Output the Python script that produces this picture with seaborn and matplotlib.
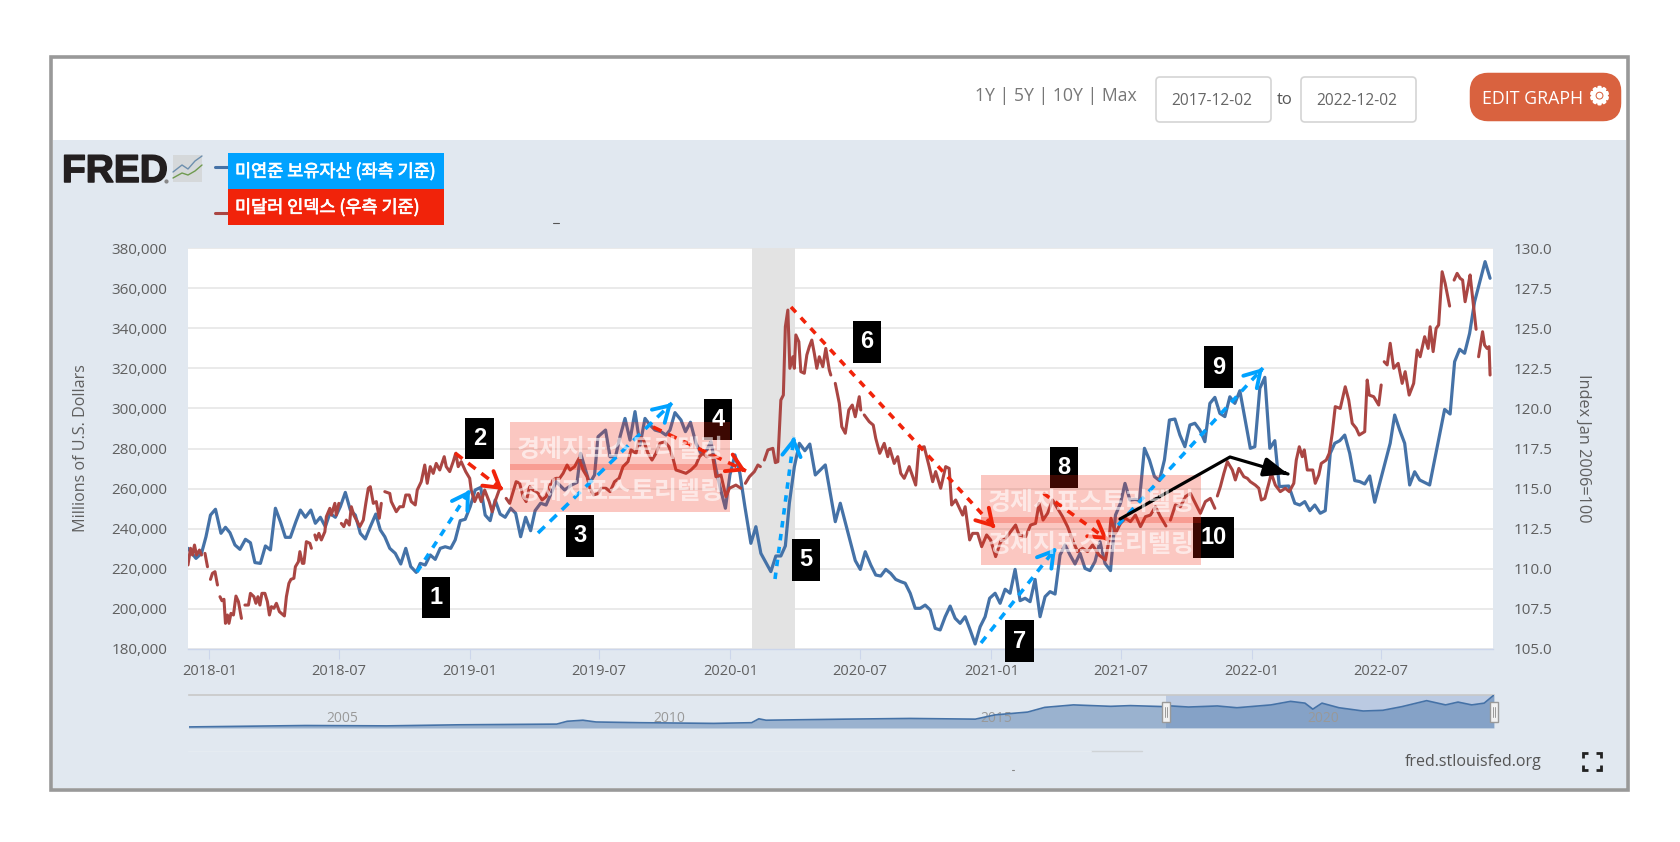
import numpy as np
import pandas as pd
import matplotlib
matplotlib.use('Agg')
import matplotlib.pyplot as plt
import matplotlib.patheffects as pe
from matplotlib.patches import Rectangle, FancyBboxPatch
import seaborn as sns

# Weeks are counted from the first date of the range
START_DATE = '2017-12-02'
END_DATE = '2022-12-05'

# Fed assets, left axis (millions of dollars)
blue_weeks = [0, 1.6, 2.7, 3.6, 4.5, 5.5, 6.6, 7.5, 8.4, 9.4, 10.4, 11.5, 12.5, 13.4, 14.5, 15.5, 16.5, 17.5, 18.5, 19.5,
              20.5, 21.6, 22.5, 23.5, 24.6, 25.5, 26.5, 27.5, 28.4, 29.5, 30.5, 31.5, 32.5, 33.5, 34.5, 35.5, 36.5, 37.6, 38.5, 39.4,
              40.4, 41.5, 42.6, 43.6, 44.6, 45.7, 46.5, 47.5, 48.5, 49.5, 50.5, 51.5, 52.6, 53.5, 54.5, 55.5, 56.5, 57.5, 58.6, 59.5,
              60.5, 61.5, 62.5, 63.5, 64.6, 65.6, 66.6, 67.6, 68.6, 69.5, 70.6, 71.7, 72.7, 73.7, 75.4, 76.8, 77.9, 78.6, 79.6, 80.4,
              81.4, 82.1, 83.6, 84.5, 85.6, 86.5, 87.5, 88.5, 89.5, 90.5, 91.5, 92.5, 93.5, 94.7, 95.7, 96.5, 97.5, 98.7, 99.6, 100.6,
              101.7, 102.7, 103.7, 104.7, 105.6, 106.5, 107.6, 108.5, 109.5, 110.5, 111.5, 112.7, 113.7, 114.7, 115.7, 116.7, 117.7, 118.7, 119.6, 120.4,
              121.4, 122.4, 123.5, 124.5, 125.6, 127.6, 129.6, 130.6, 132.6, 133.6, 134.6, 135.6, 136.7, 137.7, 138.7, 139.7, 140.7, 141.7, 142.7, 143.6,
              144.6, 145.6, 146.6, 147.6, 148.6, 149.6, 150.6, 151.6, 152.6, 153.6, 154.6, 155.6, 156.6, 157.6, 158.6, 159.6, 160.5, 161.6, 162.6, 163.6,
              164.6, 165.6, 166.6, 167.6, 168.6, 169.6, 170.6, 171.6, 172.6, 173.6, 174.6, 175.6, 176.6, 177.6, 178.6, 179.6, 180.6, 181.6, 182.6, 183.6,
              184.7, 185.7, 186.7, 187.6, 188.6, 189.6, 190.5, 191.5, 192.5, 193.5, 194.5, 195.5, 196.5, 197.6, 198.6, 199.6, 200.6, 201.6, 202.6, 203.6,
              204.6, 205.6, 206.6, 207.6, 208.6, 209.6, 210.6, 212.7, 213.6, 214.6, 215.6, 216.6, 217.6, 218.5, 220.4, 221.6, 222.6, 223.6, 224.6, 225.6,
              226.7, 227.7, 228.7, 229.6, 230.6, 231.6, 232.6, 233.6, 234.6, 235.6, 236.6, 237.6, 240.7, 241.6, 242.6, 243.6, 244.6, 245.6, 246.6, 248.6,
              251.6, 252.7, 253.6, 254.6, 255.6, 256.6, 257.6, 259.7, 260.7]
blue_vals = [230200, 225200, 227700, 236000, 246800, 249700, 237700, 240700, 238000, 231900, 229700, 234700, 233000, 223100, 222700, 231400, 229400, 250200, 243500, 235700,
             235700, 243500, 249300, 245700, 249300, 242700, 245700, 241000, 247700, 245700, 251000, 258100, 249300, 246800, 237700, 234900, 241000, 247300, 239400, 236000,
             230200, 227700, 222400, 230200, 221100, 218200, 222700, 221900, 226900, 224700, 230200, 231000, 230200, 234400, 244000, 244700, 251000, 259300, 260600, 246800,
             244000, 254300, 247300, 245700, 250200, 247700, 236000, 245700, 239000, 249000, 252700, 251800, 257600, 263500, 259300, 261800, 263100, 277600, 269300, 262600,
             266800, 285900, 289200, 275900, 275900, 285900, 295000, 284200, 298400, 281700, 295000, 291700, 289200, 288400, 286700, 289200, 297900, 294200, 288400, 293100,
             282600, 277600, 278400, 283400, 270900, 261000, 250200, 266800, 276800, 267600, 251000, 232700, 241000, 227700, 223100, 218600, 226400, 226400, 231400, 252700,
             270900, 282600, 278900, 282200, 266800, 271800, 243500, 252700, 233500, 224100, 219700, 228500, 221900, 216900, 216400, 219700, 217700, 214700, 213600, 212800,
             207800, 200300, 200300, 201900, 199500, 190300, 189500, 196100, 201400, 195300, 192800, 196100, 189500, 182500, 191100, 196100, 205300, 207800, 202800, 209800,
             207800, 219700, 204100, 205300, 203600, 214700, 196100, 206100, 208600, 207400, 226900, 231900, 226900, 222400, 227700, 220200, 219100, 223600, 233500, 222700,
             219100, 246800, 252700, 262600, 254300, 254600, 254300, 280100, 274300, 266000, 264000, 274300, 294200, 294700, 286700, 280900, 291700, 292600, 289200, 283400,
             302500, 305500, 297500, 295900, 305800, 302500, 308800, 280100, 280900, 310000, 315500, 280100, 283900, 261000, 261300, 252700, 251800, 253500, 249000, 251800,
             247700, 249000, 277600, 282600, 283900, 286700, 277600, 264000, 263500, 262300, 266300, 253200, 282600, 296700, 289200, 282600, 261800, 268400, 264300, 261800,
             299500, 297200, 323300, 329500, 327500, 337400, 353200, 373200, 364900]

# Dollar index, right axis (Jan 2006=100)
red_weeks = [0, .5, .9, 1.3, 1.7, 2.3, 2.7, 3.4, 3.9, 4.5, 4.9, 5.4, 5.9, 6.4, 6.8, 7.2, 7.5, 7.9, 8.2, 8.6, 9.1, 9.6, 10.1, 10.7,
             11.4, 12.1, 12.5, 13.2, 13.6, 14.0, 14.4, 14.8, 15.4, 15.9, 16.3, 16.7, 17.2, 17.7, 18.3, 19.3, 19.7, 20.2, 20.6, 21.2, 21.5,
             22.1, 22.4, 22.9, 23.2, 23.7, 24.4, 24.7, 25.4, 25.7, 26.2, 26.7, 27.4, 27.7, 28.4, 28.7, 29.4, 29.7, 30.2, 30.7, 31.2, 31.7,
             32.3, 32.7, 33.2, 33.9, 34.4, 35.1, 35.6, 36.1, 36.5, 37.1, 37.7, 38.3, 38.7, 39.4, 40.4, 40.7, 41.7, 42.4, 43.1, 43.6, 44.3,
             44.7, 45.5, 45.9, 46.7, 47.4, 47.9, 48.5, 49.1, 49.7, 50.4, 51.3, 51.7, 52.4, 53.1, 53.6, 54.1, 54.7, 55.6, 56.4, 56.7, 57.4,
             58.1, 58.7, 59.4, 60.3, 60.9, 61.7, 62.3, 63.7, 64.4, 65.1, 65.7, 66.4, 67.1, 67.7, 68.4, 69.1, 70.1, 70.9, 71.7, 72.5, 73.1,
             73.7, 74.4, 75.1, 75.9, 76.5, 77.4, 78.3, 79.1, 79.9, 80.5, 81.2, 82.1, 82.7, 83.7, 84.5, 85.4, 86.3, 87.1, 88.1, 88.7, 89.7,
             90.4, 91.2, 92.1, 92.9, 93.7, 94.5, 95.4, 96.3, 97.1, 97.7, 98.7, 99.7, 100.7, 101.7, 102.4, 103.1, 103.9, 105.0, 105.7, 106.7,
             107.7, 108.4, 109.7, 110.7, 111.6, 112.4, 113.4, 114.1, 114.6, 115.4, 116.1, 117.1, 117.6, 118.1, 118.7, 119.2, 119.6, 120.1,
             120.5, 121.1, 121.4, 121.7, 122.3, 122.7, 123.4, 123.9, 124.4, 124.9, 125.4, 125.9, 126.4, 127.1, 127.7, 128.4, 128.7, 129.6,
             130.4, 130.9, 131.6, 132.3, 133.0, 133.6, 134.4, 134.7, 135.4, 136.4, 137.2, 137.7, 138.5, 139.4, 140.1, 140.5, 141.4, 142.1,
             142.7, 143.4, 144.4, 145.7, 146.3, 147.4, 148.4, 149.1, 149.7, 150.7, 151.7, 152.4, 152.9, 153.7, 155.1, 155.6, 156.5, 157.1,
             158.1, 158.9, 159.9, 160.7, 161.7, 162.7, 163.7, 164.7, 165.7, 166.4, 167.7, 168.7, 169.7, 170.4, 171.2, 172.1, 173.1, 174.1,
             175.1, 176.1, 177.1, 178.1, 179.1, 180.1, 181.1, 182.4, 183.7, 184.4, 184.8, 185.7, 186.7, 187.7, 188.7, 189.7, 190.7, 191.7,
             192.7, 193.7, 194.7, 195.8, 196.7, 197.7, 198.7, 199.7, 200.7, 201.7, 202.7, 203.7, 204.7, 205.6, 206.1, 206.7, 207.4, 208.1,
             209.1, 209.7, 210.4, 211.4, 212.1, 212.7, 213.7, 214.4, 214.9, 215.6, 216.4, 216.9, 217.7, 218.7, 219.7, 220.5, 221.4, 221.9,
             222.5, 223.1, 223.5, 224.1, 225.2, 225.7, 226.4, 226.9, 227.9, 228.5, 229.1, 229.7, 230.7, 231.7, 232.4, 233.1, 233.9, 234.5,
             235.6, 236.1, 236.5, 237.4, 238.4, 238.9, 239.5, 240.1, 240.7, 241.4, 242.3, 243.1, 243.7, 244.5, 245.4, 246.1, 246.7, 247.6,
             248.3, 248.7, 249.3, 249.9, 250.4, 251.1, 251.7, 252.6, 253.5, 254.1, 254.7, 255.2, 255.7, 256.4, 256.7, 257.9, 258.4, 259.2,
             259.6, 260.1, 260.5, 260.7]
red_vals = [110.24, 111.28, 110.86, 111.48, 110.86, 111.17, 110.86, 110.96, 110.13, 109.34, 109.72, 109.82, 108.99, 108.26, 108.01, 108.10, 106.60, 107.12, 106.60, 107.22, 107.12, 108.30, 107.95, 106.91,
            107.74, 107.74, 108.47, 108.26, 107.85, 108.26, 107.74, 108.47, 108.47, 107.95, 107.12, 107.64, 107.54, 107.85, 107.33, 107.06, 108.26, 109.09, 109.34, 109.41, 110.13,
            110.44, 111.07, 110.34, 110.34, 111.69, 111.59, 111.28, 112.11, 111.80, 112.21, 111.80, 112.31, 113.25, 113.77, 113.35, 114.08, 113.35, 114.08, 112.83, 112.63, 113.04,
            112.73, 113.87, 113.35, 112.94, 112.63, 113.04, 114.08, 115.02, 115.12, 114.08, 114.19, 113.15, 114.08, 114.81, 114.70, 114.19, 113.56, 113.87, 113.87, 114.60, 114.60,
            114.19, 113.98, 114.91, 115.43, 116.47, 115.33, 116.37, 115.95, 116.57, 116.16, 116.99, 116.37, 116.06, 116.68, 117.20, 116.37, 116.68, 116.06, 115.64, 114.91, 114.19,
            114.70, 114.19, 114.91, 114.19, 113.56, 114.39, 114.91, 114.39, 114.08, 114.81, 115.43, 115.33, 114.50, 114.19, 115.12, 114.91, 114.70, 114.29, 114.50, 115.22, 115.54,
            115.64, 115.64, 115.95, 116.47, 116.16, 116.37, 116.89, 116.16, 115.74, 115.02, 114.60, 114.70, 115.02, 115.02, 114.81, 115.43, 115.64, 116.37, 116.68, 117.41, 117.20,
            118.24, 118.03, 117.20, 116.78, 117.20, 117.82, 117.93, 117.61, 116.89, 116.16, 116.06, 115.95, 116.16, 116.47, 116.99, 117.20, 116.99, 117.09, 115.74, 115.85,
            114.50, 115.02, 115.22, 115.02, 115.33, 115.74, 116.06, 116.47, 116.37, 116.78, 117.41, 117.51, 116.62, 116.68, 120.52, 120.83, 125.09, 126.13,
            122.50, 123.22, 122.50, 124.58, 124.16, 122.29, 122.19, 123.33, 123.85, 124.26, 123.43, 122.50, 123.22, 122.60, 123.74, 122.39, 122.08, 121.56,
            120.32, 118.86, 118.45, 119.90, 120.21, 119.48, 120.73, 119.90, 119.59, 119.17, 118.96, 118.13, 117.20, 117.82, 116.99, 117.51, 116.57, 116.99,
            115.95, 115.64, 116.37, 115.22, 117.51, 117.61, 116.37, 115.43, 116.06, 115.02, 116.37, 116.26, 113.98, 114.29, 113.35, 113.87, 111.80, 112.21,
            112.21, 111.38, 112.11, 111.80, 110.76, 111.69, 111.90, 112.31, 112.73, 112.11, 112.00, 112.73, 112.83, 114.08, 113.04, 113.46, 114.29, 113.77,
            113.25, 112.63, 111.80, 111.07, 111.28, 111.07, 111.48, 110.86, 110.55, 111.80, 113.15, 112.21, 112.83, 113.15, 112.94, 113.35, 112.63, 113.25,
            113.35, 113.87, 113.25, 112.67, 113.04, 113.98, 113.87, 114.50, 114.70, 114.08, 113.46, 114.19, 114.39, 113.77, 114.54, 115.12, 115.95, 116.68,
            116.16, 115.54, 116.26, 115.74, 115.64, 115.43, 115.22, 115.02, 114.29, 114.39, 115.33, 115.95, 115.22, 114.81, 115.02, 114.81, 115.33, 116.78,
            117.61, 116.99, 117.41, 116.16, 116.16, 115.33, 115.85, 116.57, 116.78, 117.20, 118.45, 120.11, 120.00, 121.35, 120.52, 119.07, 118.76, 118.34,
            118.55, 121.77, 120.83, 120.73, 120.21, 121.46, 122.91, 122.71, 124.06, 122.50, 122.81, 121.56, 122.29, 120.83, 121.56, 123.64, 123.22, 124.47,
            123.74, 125.09, 123.54, 124.99, 125.20, 128.52, 127.80, 126.38, 128.00, 128.42, 128.11, 128.00, 126.65, 127.80, 128.32, 124.93, 123.22, 124.78,
            123.95, 123.74, 123.85, 122.08]
# the index has missing days, the line breaks at these weeks
red_gap_weeks = [3, 4.2, 6.2, 11, 25, 30.5, 39, 63, 111, 115, 129, 135, 196, 205.9, 239.2, 253, 258.2]

# Navigator series, full history
nav_years = [2002.97, 2004.76, 2006.0, 2007.1, 2008.6, 2008.76, 2009.0, 2009.2, 2009.87, 2011.0, 2011.58, 2011.69, 2011.8,
             2013.0, 2014.0, 2015.0, 2015.3, 2015.8, 2016.06, 2016.5, 2017.07, 2017.37, 2017.92, 2018.0, 2018.26, 2018.7,
             2019.0, 2019.52, 2019.82, 2020.04, 2020.16, 2020.3, 2020.56, 2020.93, 2021.23, 2021.52, 2021.9, 2022.19,
             2022.38, 2022.59, 2022.78, 2022.93]
nav_vals = [12000, 28000, 24000, 36000, 44000, 76000, 88000, 68000, 60000, 52000, 60000, 104000, 88000,
            100000, 108000, 100000, 148000, 180000, 233000, 261000, 245000, 253000, 241000, 249000, 237000, 249000,
            229000, 261000, 301000, 281000, 213000, 281000, 229000, 192000, 200000, 241000, 309000, 261000,
            293000, 261000, 281000, 373000]
nav_labels = ['2005', '2010', '2015', '2020']

x_ticks = ['2018-01', '2018-07', '2019-01', '2019-07', '2020-01', '2020-07', '2021-01', '2021-07', '2022-01', '2022-07']
left_ticks = [180000, 200000, 220000, 240000, 260000, 280000, 300000, 320000, 340000, 360000, 380000]
right_ticks = [105.0, 107.5, 110.0, 112.5, 115.0, 117.5, 120.0, 122.5, 125.0, 127.5, 130.0]
recession = ['2020-02-01', '2020-04-01']

# Colors
PANEL = '#e1e8f0'
BLUE_LINE = '#4572a7'
RED_LINE = '#aa4643'
GRID = '#e6e6e6'
TICK = '#ccd6eb'
TEXT = '#5f5f5f'
ARROW_BLUE = '#00a2ff'
ARROW_RED = '#f1230a'
KO = ['Noto Sans CJK KR', 'DejaVu Sans']

sns.set_style('white')
plt.rcParams['font.family'] = ['Open Sans', 'Noto Sans CJK KR', 'DejaVu Sans']

W, H = 1680, 842
fig = plt.figure(figsize=(W / 100, H / 100), dpi=100, facecolor='white')


def pixel_axes(zorder):
    # Axes over the whole figure, measured in pixels from the top left
    a = fig.add_axes([0, 0, 1, 1], zorder=zorder)
    a.set_xlim(0, W)
    a.set_ylim(H, 0)
    a.axis('off')
    a.patch.set_alpha(0)
    return a


def axes_box(x0, y0, x1, y1, zorder):
    return fig.add_axes([x0 / W, 1 - y1 / H, (x1 - x0) / W, (y1 - y0) / H], zorder=zorder)


def to_dates(weeks):
    return pd.Timestamp(START_DATE) + pd.to_timedelta(np.array(weeks) * 7, unit='D')


# Page behind the chart
bg = pixel_axes(0)
bg.add_patch(Rectangle((50.7, 56.8), 1576.8, 733, fc='white', ec='#999999', lw=2.6))
bg.add_patch(Rectangle((52.5, 140), 1573.5, 648, fc=PANEL, ec='none'))

bg.text(1056, 96, '1Y | 5Y | 10Y | Max', fontsize=12.7, color='#777777', ha='center', va='center')
for x0, label in [(1156, '2017-12-02'), (1301, '2022-12-02')]:
    bg.add_patch(FancyBboxPatch((x0, 77), 115, 45, boxstyle='round,pad=0,rounding_size=4',
                                fc='white', ec='#d4d4d4', lw=1.2))
    bg.text(x0 + 56, 101, label, fontsize=11.2, color='#666666', ha='center', va='center')
bg.text(1285, 100, 'to', fontsize=12, color='#555555', ha='center', va='center')
bg.add_patch(FancyBboxPatch((1476, 79), 139, 36, boxstyle='round,pad=0,rounding_size=12', fc='#d9623f',
                            ec='#d9623f', lw=9))
bg.text(1533, 99, 'EDIT GRAPH', fontsize=12.8, color='white', ha='center', va='center')
bg.text(1599.5, 97, '\u2699', fontsize=17, color='white', ha='center', va='center', family='DejaVu Sans',
        path_effects=[pe.withStroke(linewidth=1.6, foreground='white')])

# FRED logo and its little chart icon
bg.text(62, 182, 'FRED', fontsize=28, fontweight='bold', color='#231f20', family='Liberation Sans', ha='left', va='baseline',
        path_effects=[pe.withStroke(linewidth=1.1, foreground='#231f20')])
bg.add_patch(Rectangle((173, 155), 29, 27, fc='#d5d8da', ec='none'))
bg.plot([173, 182, 188, 195, 202], [172, 165, 169, 161, 156], color='#6d8fae', lw=1)
bg.plot([173, 182, 188, 195, 202], [178, 173, 175, 171, 165], color='#6f9a4f', lw=1)
bg.plot([166], [180.5], 'o', color='#888888', ms=2)

# Legend stubs
bg.plot([215, 229], [167, 167], color=BLUE_LINE, lw=2.2)
bg.plot([215, 229], [213, 213], color=RED_LINE, lw=2.2)

# Bits of the page that show through
bg.plot([553, 559], [223, 223], color='#555555', lw=0.8)
bg.plot([1091, 1142], [751, 751], color='#cfd3d6', lw=1)
bg.plot([188, 1091], [751, 751], color='#e6ecf2', lw=0.7)
bg.plot([1012, 1014], [770, 770], color='#888888', lw=0.8)

bg.text(1473.5, 762, 'fred.stlouisfed.org', fontsize=11.5, color='#555555', ha='center', va='center')
for cx, cy, dx, dy in [(1583, 753, 1, 1), (1601, 753, -1, 1), (1583, 770, 1, -1), (1601, 770, -1, -1)]:
    bg.plot([cx + 5 * dx, cx, cx], [cy, cy, cy + 5 * dy], color='#222222', lw=2, solid_capstyle='butt', solid_joinstyle='miter')

# Main chart, dollars on the left and index on the right
blue_df = pd.DataFrame({'date': to_dates(blue_weeks), 'value': blue_vals})
red_df = pd.DataFrame({'date': to_dates(red_weeks), 'value': red_vals,
                       'stretch': np.searchsorted(red_gap_weeks, red_weeks, side='right')})

ax = axes_box(188, 248, 1493, 649, 1)
ax.set_facecolor('white')
sns.lineplot(data=blue_df, x='date', y='value', color=BLUE_LINE, lw=2.3, estimator=None, ax=ax, zorder=3)
ax.axvspan(pd.Timestamp(recession[0]), pd.Timestamp(recession[1]), color='#e3e3e3', lw=0, zorder=1)
ax.set_xlim(pd.Timestamp(START_DATE), pd.Timestamp(END_DATE))
ax.set_ylim(left_ticks[0], left_ticks[-1])
ax.set_yticks(left_ticks, [f'{v:,}' for v in left_ticks])
ax.set_xticks(pd.to_datetime(x_ticks), x_ticks)
ax.grid(axis='y', color=GRID, lw=1.2)
ax.set_axisbelow(True)
ax.tick_params(axis='x', length=7, width=0.8, color=TICK, labelsize=10.5, labelcolor=TEXT, pad=3.5, bottom=True)
ax.tick_params(axis='y', length=0, labelsize=11, labelcolor=TEXT, pad=15)
ax.set_xlabel('')
ax.set_ylabel('')
for side in ['top', 'left', 'right']:
    ax.spines[side].set_visible(False)
ax.spines['bottom'].set_color(TICK)
ax.spines['bottom'].set_linewidth(1)

ax2 = ax.twinx()
sns.lineplot(data=red_df, x='date', y='value', units='stretch', estimator=None, color=RED_LINE, lw=2.2, ax=ax2, zorder=4)
ax2.set_ylim(right_ticks[0], right_ticks[-1])
ax2.set_yticks(right_ticks, [f'{v:.1f}' for v in right_ticks])
ax2.tick_params(axis='y', length=0, labelsize=11, labelcolor=TEXT, pad=15)
ax2.set_xlabel('')
ax2.set_ylabel('')
for spine in ax2.spines.values():
    spine.set_visible(False)

bg.text(81, 448, 'Millions of U.S. Dollars', fontsize=11.6, color=TEXT, rotation=90, ha='center', va='center')
bg.text(1583, 448, 'Index Jan 2006=100', fontsize=11.7, color=TEXT, rotation=270, ha='center', va='center')

# Navigator under the chart
nav = axes_box(188.5, 695, 1494, 728, 1)
nav.patch.set_alpha(0)
sns.lineplot(x=nav_years, y=nav_vals, color=BLUE_LINE, lw=1.2, estimator=None, ax=nav, zorder=3)
nav.fill_between(nav_years, nav_vals, color=BLUE_LINE, alpha=0.45, lw=0, zorder=2)
nav.axvspan(2017.92, 2022.93, color='#6685c2', alpha=0.3, lw=0, zorder=1)
nav.set_xlim(2002.97, 2022.93)
nav.set_ylim(0, 373000)
nav.set_xticks([])
nav.set_yticks([])
nav.set_xlabel('')
nav.set_ylabel('')
for side in ['left', 'right', 'bottom']:
    nav.spines[side].set_visible(False)
nav.spines['top'].set_color('#c8c8c8')
nav.spines['top'].set_linewidth(1.2)
for label in nav_labels:
    nav.text(int(label) + 0.32, 0.29, label, transform=nav.get_xaxis_transform(), fontsize=10,
             color='#999999', ha='center', va='center', zorder=2)

# Everything pasted on top of the chart
top = pixel_axes(5)
for x in [1166, 1494]:
    top.add_patch(Rectangle((x - 4, 702), 8, 20, fc='#f2f2f2', ec='#999999', lw=1))
    top.plot([x - 1, x - 1], [707, 717], color='#999999', lw=0.7)
    top.plot([x + 1, x + 1], [707, 717], color='#999999', lw=0.7)

top.add_patch(Rectangle((228, 153), 216, 36, fc=ARROW_BLUE, ec='none'))
top.add_patch(Rectangle((228, 189), 216, 36, fc=ARROW_RED, ec='none'))
legend_stroke = [pe.withStroke(linewidth=0.5, foreground='white')]
top.text(235, 171.5, '미연준 보유자산 (좌측 기준)', fontsize=12.6, color='white', family=KO, ha='left', va='center',
         path_effects=legend_stroke)
top.text(235, 207.5, '미달러 인덱스 (우측 기준)', fontsize=12.6, color='white', family=KO, ha='left', va='center',
         path_effects=legend_stroke)


def arrow(points, color, dashes):
    xs = [p[0] for p in points]
    ys = [p[1] for p in points]
    if dashes is None:
        top.plot(xs, ys, color=color, lw=2.3, solid_capstyle='round')
    else:
        top.plot(xs, ys, color=color, lw=2.6, dashes=dashes, dash_capstyle='butt')
    # head is drawn on its own so it stays solid
    x1, y1 = points[-1]
    x0, y0 = points[-2]
    d = np.hypot(x1 - x0, y1 - y0)
    start = (x1 - (x1 - x0) / d * 3, y1 - (y1 - y0) / d * 3)
    style = '->,head_length=0.55,head_width=0.33' if dashes is not None else '-|>,head_length=0.7,head_width=0.28'
    top.annotate('', xy=(x1, y1), xytext=start,
                 arrowprops=dict(arrowstyle=style, color=color, lw=2.8, mutation_scale=20, shrinkA=0, shrinkB=0))


arrow([(417, 572), (470, 490)], ARROW_BLUE, (2, 2))
arrow([(455, 453), (503, 490)], ARROW_RED, (2.6, 2))
arrow([(538, 533), (672, 403)], ARROW_BLUE, (2.6, 2))
arrow([(653, 427), (746, 471)], ARROW_RED, (2.6, 2))
arrow([(775, 579), (794, 437)], ARROW_BLUE, (1.8, 1.8))
arrow([(791, 307), (995, 528)], ARROW_RED, (2, 2))
arrow([(981, 643), (1056, 548)], ARROW_BLUE, (2.2, 2))
arrow([(1043, 493), (1108, 540)], ARROW_RED, (2.2, 2))
arrow([(1118, 525), (1263, 368)], ARROW_BLUE, (2.2, 2))
arrow([(1120, 519), (1230, 457), (1288, 474)], 'black', None)

# Numbered tags
tags = [('1', 422, 577, 450, 618), ('2', 465, 418, 494, 459), ('3', 566, 515, 594, 557), ('4', 704, 399, 732, 440),
        ('5', 792, 539, 820, 581), ('6', 853, 321, 881, 363), ('7', 1005, 620, 1034, 662), ('8', 1050, 447, 1078, 488),
        ('9', 1204, 346, 1233, 388), ('10', 1193, 517, 1234, 558)]
for label, x0, y0, x1, y1 in tags:
    top.add_patch(Rectangle((x0, y0), x1 - x0, y1 - y0, fc='black', ec='none'))
    top.text((x0 + x1) / 2, (y0 + y1) / 2, label, color='white', fontsize=17, fontweight='bold',
             family='Liberation Sans', ha='center', va='center')

# Pink watermark strips, two per block
for x0, y0 in [(510, 422), (981, 475)]:
    for dy in [0, 42]:
        top.add_patch(Rectangle((x0, y0 + dy), 220, 48, fc=ARROW_RED, alpha=0.25, ec='none'))
        top.text(x0 + 110, y0 + dy + 28, '경제지표스토리텔링', color='white', alpha=0.6, fontsize=18,
                 fontweight='bold', family=KO, ha='center', va='center')

fig.savefig('out.png', dpi=100)
